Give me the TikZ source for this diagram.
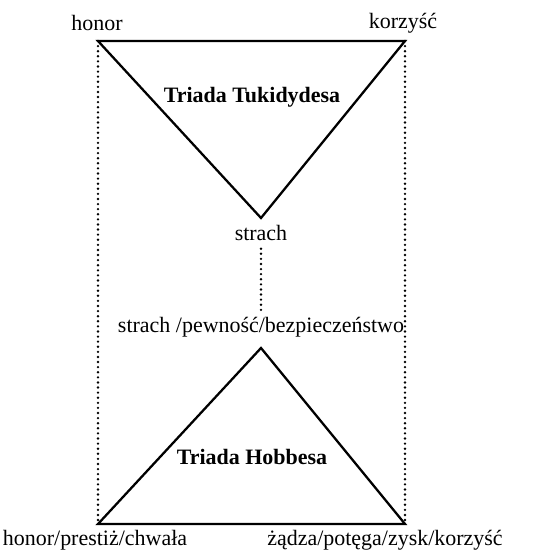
\documentclass[tikz,border=0pt]{standalone}
\usepackage{fontspec}
\setmainfont{Liberation Serif}
\usetikzlibrary{positioning}

\begin{document}
\begin{tikzpicture}[every node/.style={font=\fontsize{12.5}{15}\selectfont},
    triangle/.style={line width=1.3pt, line join=miter},
    link/.style={line width=1.5pt, line cap=round, dash pattern=on 0pt off 2.9pt}]
  \useasboundingbox (0,0) rectangle (10.84,11.02);
  
  % corners
  \coordinate (top left) at (1.96,10.20);
  \coordinate (top right) at (8.10,10.20);
  \coordinate (top apex) at (5.22,6.66);
  \coordinate (bottom apex) at (5.22,4.06);
  \coordinate (bottom left) at (1.96,0.54);
  \coordinate (bottom right) at (8.10,0.54);
  
  % Tukidydes
  \draw[triangle] (top left) -- (top right) -- (top apex) -- cycle;
  \node (honor) at (1.94,10.56) {honor};
  \node (korzysc) at (8.06,10.56) {korzyść};
  \node[font=\fontsize{12.5}{15}\selectfont\bfseries] (tukidydes) at (5.04,9.08) {Triada Tukidydesa};
  \node (strach) at (5.22,6.36) {strach};
  
  % Hobbes
  \draw[triangle] (bottom left) -- (bottom right) -- (bottom apex) -- cycle;
  \node (pewnosc) at (5.22,4.48) {strach /pewność/bezpieczeństwo};
  \node[font=\fontsize{12.5}{15}\selectfont\bfseries] (hobbes) at (5.04,1.88) {Triada Hobbesa};
  \node (chwala) at (1.90,0.22) {honor/prestiż/chwała};
  \node (zysk) at (7.70,0.22) {żądza/potęga/zysk/korzyść};
  
  % dotted links
  \draw[link] (top left) -- (bottom left);
  \draw[link] (top right) -- (bottom right);
  \draw[link] ([yshift=-1pt]strach.south) -- (pewnosc.north);
\end{tikzpicture}
\end{document}
